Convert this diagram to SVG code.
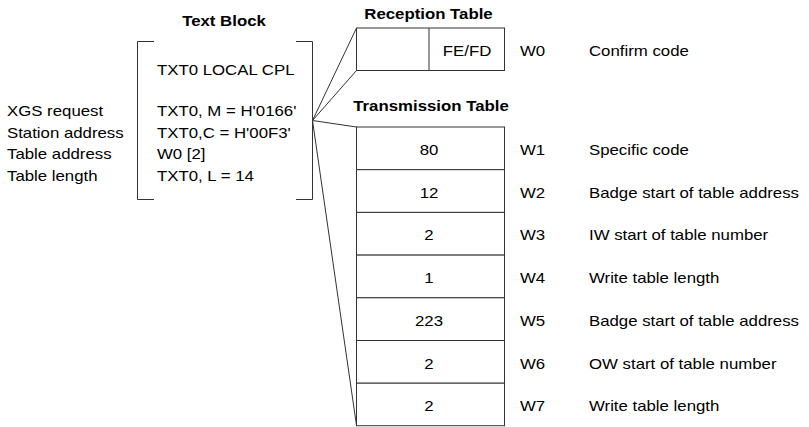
<svg xmlns="http://www.w3.org/2000/svg" width="809" height="427" viewBox="0 0 809 427">
<style>
text{font-family:"Liberation Sans",Arial,sans-serif;font-size:14px;fill:#000}
.b{font-weight:bold}
.m{text-anchor:middle}
.ln{fill:none;stroke:#333;stroke-width:1}
.cell{fill:#fff;stroke:#333;stroke-width:1}
</style>
<g id="text-block">
<text class="b m" transform="translate(224,25.5) scale(1.2,1)">Text Block</text>
<path class="ln" d="M154,41.5H137.5V199.5H154"/>
<path class="ln" d="M296,41.5H312.5V199.5H296"/>
<text transform="translate(157,75) scale(1.2,1)">TXT0 LOCAL CPL</text>
<text transform="translate(157,115.5) scale(1.2,1)">TXT0, M = H'0166'</text>
<text transform="translate(157,137.5) scale(1.2,1)">TXT0,C = H'00F3'</text>
<text transform="translate(157,159) scale(1.2,1)">W0 [2]</text>
<text transform="translate(157,181) scale(1.2,1)">TXT0, L = 14</text>
</g>
<g id="labels">
<text transform="translate(7,115.5) scale(1.2,1)">XGS request</text>
<text transform="translate(7,137.5) scale(1.2,1)">Station address</text>
<text transform="translate(7,159) scale(1.2,1)">Table address</text>
<text transform="translate(7,181) scale(1.2,1)">Table length</text>
</g>
<g id="connectors">
<path class="ln" d="M312.5,120.5L356.5,28M312.5,120.5L356.5,70.5M312.5,120.5L356.5,127M312.5,120.5L356.5,425.5"/>
</g>
<g id="reception-table">
<text class="b m" transform="translate(428.5,18.5) scale(1.2,1)">Reception Table</text>
<rect class="cell" x="356.5" y="28" width="148" height="42.5"/>
<line class="ln" x1="429" y1="28" x2="429" y2="70.5"/>
<text class="m" transform="translate(467,56) scale(1.2,1)">FE/FD</text>
<text transform="translate(520,56) scale(1.2,1)">W0</text>
<text transform="translate(589,56) scale(1.2,1)">Confirm code</text>
</g>
<g id="transmission-table">
<text class="b m" transform="translate(431,111) scale(1.2,1)">Transmission Table</text>
<g id="row-w1"><rect class="cell" x="356.5" y="127" width="148" height="42.7"/><text class="m" transform="translate(429,155) scale(1.2,1)">80</text><text transform="translate(520,155) scale(1.2,1)">W1</text><text transform="translate(589,155) scale(1.2,1)">Specific code</text></g>
<g id="row-w2"><rect class="cell" x="356.5" y="169.7" width="148" height="42.7"/><text class="m" transform="translate(429,197.7) scale(1.2,1)">12</text><text transform="translate(520,197.7) scale(1.2,1)">W2</text><text transform="translate(589,197.7) scale(1.2,1)">Badge start of table address</text></g>
<g id="row-w3"><rect class="cell" x="356.5" y="212.4" width="148" height="42.7"/><text class="m" transform="translate(429,240.4) scale(1.2,1)">2</text><text transform="translate(520,240.4) scale(1.2,1)">W3</text><text transform="translate(589,240.4) scale(1.2,1)">IW start of table number</text></g>
<g id="row-w4"><rect class="cell" x="356.5" y="255.1" width="148" height="42.7"/><text class="m" transform="translate(429,283.1) scale(1.2,1)">1</text><text transform="translate(520,283.1) scale(1.2,1)">W4</text><text transform="translate(589,283.1) scale(1.2,1)">Write table length</text></g>
<g id="row-w5"><rect class="cell" x="356.5" y="297.8" width="148" height="42.7"/><text class="m" transform="translate(429,325.8) scale(1.2,1)">223</text><text transform="translate(520,325.8) scale(1.2,1)">W5</text><text transform="translate(589,325.8) scale(1.2,1)">Badge start of table address</text></g>
<g id="row-w6"><rect class="cell" x="356.5" y="340.5" width="148" height="42.7"/><text class="m" transform="translate(429,368.5) scale(1.2,1)">2</text><text transform="translate(520,368.5) scale(1.2,1)">W6</text><text transform="translate(589,368.5) scale(1.2,1)">OW start of table number</text></g>
<g id="row-w7"><rect class="cell" x="356.5" y="383.2" width="148" height="42.5"/><text class="m" transform="translate(429,411) scale(1.2,1)">2</text><text transform="translate(520,411) scale(1.2,1)">W7</text><text transform="translate(589,411) scale(1.2,1)">Write table length</text></g>
</g>
</svg>
